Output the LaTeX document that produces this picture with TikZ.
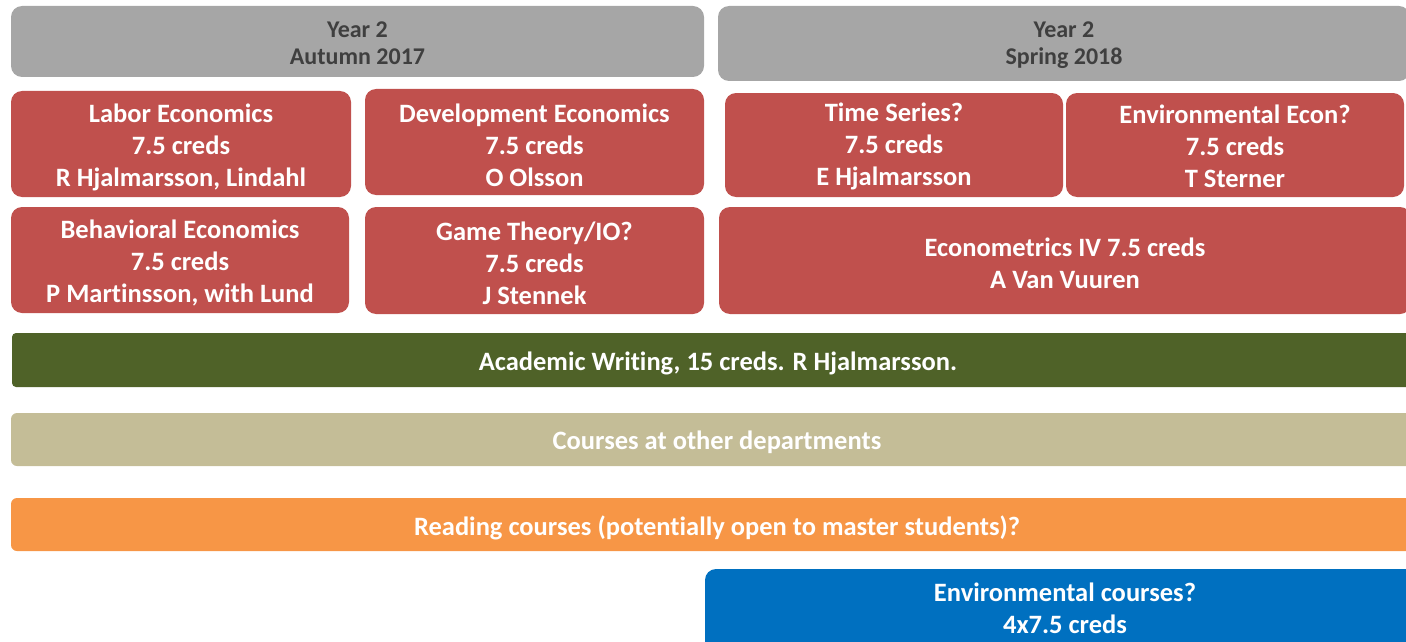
\documentclass[tikz,border=0pt]{standalone}
\usepackage{fontspec}
\setmainfont{Carlito}[Ligatures=NoCommon]
\definecolor{hdrgrey}{HTML}{A6A6A6}
\definecolor{hdrtext}{HTML}{3F3F3F}
\definecolor{coursered}{HTML}{C0504D}
\definecolor{writegreen}{HTML}{4F6228}
\definecolor{othertan}{HTML}{C4BD97}
\definecolor{readorange}{HTML}{F79646}
\definecolor{envblue}{HTML}{0070C0}
\tikzset{
  box/.style={rounded corners=11pt, inner sep=0pt},
  hdr/.style={box, fill=hdrgrey},
  course/.style={box, fill=coursered},
  txt/.style={inner sep=0pt, align=center, text=white,
    font=\fontsize{26.5}{32}\selectfont\bfseries},
  hdrtxt/.style={txt, text=hdrtext, font=\fontsize{24}{27}\selectfont\bfseries},
}
\begin{document}
\begin{tikzpicture}[x=1pt,y=-1pt]
\useasboundingbox (0,0) rectangle (1406,642);
\clip (0,0) rectangle (1406,642);
% headers
\node[hdr, minimum width=693pt, minimum height=71pt] (h1) at (357.5,41.5) {};
\node[hdrtxt] (h1t) at ([yshift=-1.5pt]h1.center) {Year 2\\Autumn 2017};
\node[hdr, minimum width=692pt, minimum height=75pt] (h2) at (1064,43.5) {};
\node[hdrtxt] (h2t) at ([yshift=-1.5pt]h2.center) {Year 2\\Spring 2018};
% course boxes
\node[course, minimum width=340pt, minimum height=106pt] (labor) at (181,144) {};
\node[txt] (labort) at ([yshift=-3pt]labor.center) {Labor Economics\\7.5 creds\\R Hjalmarsson, Lindahl};
\node[course, minimum width=339pt, minimum height=106pt] (dev) at (534.5,142) {};
\node[txt] (devt) at ([yshift=-3pt]dev.center) {Development Economics\\7.5 creds\\O Olsson};
\node[course, minimum width=338pt, minimum height=104pt] (ts) at (894,145) {};
\node[txt] (tst) at ([yshift=-1pt]ts.center) {Time Series?\\7.5 creds\\E Hjalmarsson};
\node[course, minimum width=338pt, minimum height=104pt] (env) at (1235,145) {};
\node[txt] (envt) at ([yshift=-1pt]env.center) {Environmental Econ?\\7.5 creds\\T Sterner};
\node[course, minimum width=338pt, minimum height=106pt] (beh) at (180,260) {};
\node[txt] (beht) at ([yshift=-3pt]beh.center) {Behavioral Economics\\7.5 creds\\P Martinsson, with Lund};
\node[course, minimum width=339pt, minimum height=107pt] (game) at (534.5,260.5) {};
\node[txt] (gamet) at ([yshift=-3pt]game.center) {Game Theory/IO?\\7.5 creds\\J Stennek};
\node[course, minimum width=692pt, minimum height=107pt] (ecm) at (1065,260.5) {};
\node[txt] (ecmt) at ([yshift=-3pt]ecm.center) {Econometrics IV 7.5 creds\\A Van Vuuren};
% bars
\node[box, fill=writegreen, rounded corners=4pt, minimum width=1412pt, minimum height=54pt] (aw) at (718,360) {};
\node[txt] (awt) at ([yshift=-3pt]aw.center) {Academic Writing, 15 creds. R Hjalmarsson.};
\node[box, fill=othertan, rounded corners=6pt, minimum width=1412pt, minimum height=53pt] (oth) at (717,439.5) {};
\node[txt] (otht) at ([yshift=-3pt]oth.center) {Courses at other departments};
\node[box, fill=readorange, rounded corners=6pt, minimum width=1412pt, minimum height=53pt] (read) at (717,524.5) {};
\node[txt] (readt) at ([yshift=-3pt]read.center) {Reading courses (potentially open to master students)?};
\node[box, fill=envblue, minimum width=720pt, minimum height=140pt] (envc) at (1065,639) {};
\node[txt, anchor=north] (envct) at (1065,583) {Environmental courses?\\4x7.5 creds};
\end{tikzpicture}
\end{document}
